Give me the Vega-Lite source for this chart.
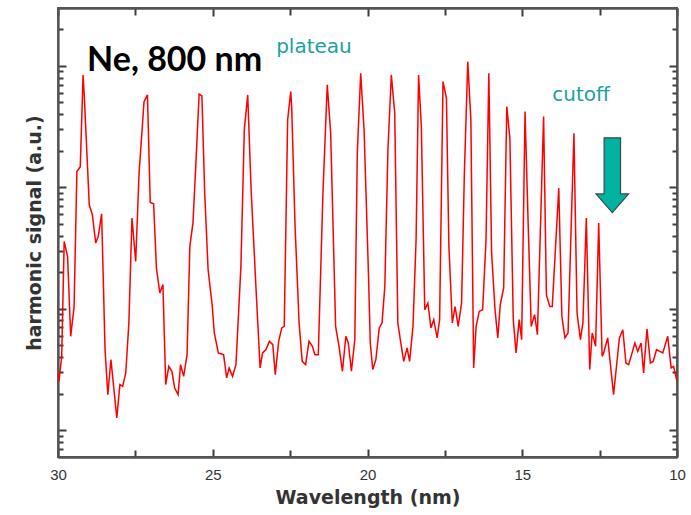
{
  "$schema": "https://vega.github.io/schema/vega-lite/v6.json",
  "width": 619,
  "height": 449,
  "autosize": "none",
  "padding": {"left": 58, "top": 8, "right": 14, "bottom": 58},
  "background": "white",
  "config": {
    "view": {"stroke": "#555555", "strokeWidth": 1.8},
    "axis": {"grid": false, "domainColor": "#555555", "domainWidth": 1.8, "tickColor": "#3c3c3c", "tickWidth": 2, "labelOverlap": false, "labelBound": false, "labelFlush": false}
  },
  "resolve": {"axis": {"x": "independent", "y": "independent"}},
  "layer": [
    {
      "data": {"name": "spectrum", "values": [
        {"wavelength": 30.00, "signal": 2.97}, {"wavelength": 29.97, "signal": 2.52}, {"wavelength": 29.88, "signal": 4.05}, {"wavelength": 29.80, "signal": 35.8}, {"wavelength": 29.69, "signal": 26.9}, {"wavelength": 29.59, "signal": 5.92}, {"wavelength": 29.48, "signal": 10.4}, {"wavelength": 29.39, "signal": 135}, {"wavelength": 29.28, "signal": 148}, {"wavelength": 29.19, "signal": 843}, {"wavelength": 29.15, "signal": 559}, {"wavelength": 28.99, "signal": 71.8}, {"wavelength": 28.89, "signal": 59.4}, {"wavelength": 28.78, "signal": 34.7}, {"wavelength": 28.70, "signal": 39.4}, {"wavelength": 28.59, "signal": 60.5}, {"wavelength": 28.48, "signal": 4.60}, {"wavelength": 28.39, "signal": 1.96}, {"wavelength": 28.29, "signal": 3.80}, {"wavelength": 28.10, "signal": 1.26}, {"wavelength": 28.00, "signal": 2.37}, {"wavelength": 27.91, "signal": 2.29}, {"wavelength": 27.81, "signal": 2.96}, {"wavelength": 27.71, "signal": 7.63}, {"wavelength": 27.61, "signal": 55.8}, {"wavelength": 27.49, "signal": 24.5}, {"wavelength": 27.38, "signal": 131}, {"wavelength": 27.22, "signal": 508}, {"wavelength": 27.11, "signal": 577}, {"wavelength": 27.02, "signal": 75.0}, {"wavelength": 26.91, "signal": 73.1}, {"wavelength": 26.82, "signal": 21.6}, {"wavelength": 26.71, "signal": 13.5}, {"wavelength": 26.61, "signal": 15.8}, {"wavelength": 26.52, "signal": 2.37}, {"wavelength": 26.42, "signal": 3.35}, {"wavelength": 26.32, "signal": 3.05}, {"wavelength": 26.23, "signal": 2.22}, {"wavelength": 26.12, "signal": 1.96}, {"wavelength": 26.04, "signal": 3.46}, {"wavelength": 25.94, "signal": 2.77}, {"wavelength": 25.83, "signal": 4.18}, {"wavelength": 25.74, "signal": 32.6}, {"wavelength": 25.64, "signal": 50.7}, {"wavelength": 25.55, "signal": 148}, {"wavelength": 25.44, "signal": 585}, {"wavelength": 25.35, "signal": 566}, {"wavelength": 25.26, "signal": 89.6}, {"wavelength": 25.15, "signal": 20.9}, {"wavelength": 25.02, "signal": 10.8}, {"wavelength": 24.95, "signal": 6.31}, {"wavelength": 24.82, "signal": 4.32}, {"wavelength": 24.65, "signal": 4.18}, {"wavelength": 24.55, "signal": 2.69}, {"wavelength": 24.47, "signal": 3.25}, {"wavelength": 24.36, "signal": 2.77}, {"wavelength": 24.25, "signal": 3.46}, {"wavelength": 24.09, "signal": 22.3}, {"wavelength": 23.98, "signal": 297}, {"wavelength": 23.87, "signal": 577}, {"wavelength": 23.76, "signal": 95.3}, {"wavelength": 23.60, "signal": 14.3}, {"wavelength": 23.47, "signal": 3.25}, {"wavelength": 23.39, "signal": 4.32}, {"wavelength": 23.28, "signal": 4.60}, {"wavelength": 23.17, "signal": 5.38}, {"wavelength": 23.06, "signal": 5.05}, {"wavelength": 22.98, "signal": 2.86}, {"wavelength": 22.87, "signal": 5.38}, {"wavelength": 22.77, "signal": 6.94}, {"wavelength": 22.69, "signal": 7.15}, {"wavelength": 22.58, "signal": 359}, {"wavelength": 22.48, "signal": 614}, {"wavelength": 22.45, "signal": 462}, {"wavelength": 22.34, "signal": 47.6}, {"wavelength": 22.21, "signal": 7.63}, {"wavelength": 22.11, "signal": 3.68}, {"wavelength": 22.00, "signal": 3.46}, {"wavelength": 21.89, "signal": 5.38}, {"wavelength": 21.78, "signal": 4.90}, {"wavelength": 21.70, "signal": 4.18}, {"wavelength": 21.59, "signal": 4.18}, {"wavelength": 21.44, "signal": 89.6}, {"wavelength": 21.30, "signal": 698}, {"wavelength": 21.19, "signal": 279}, {"wavelength": 21.03, "signal": 7.15}, {"wavelength": 20.92, "signal": 4.90}, {"wavelength": 20.81, "signal": 3.05}, {"wavelength": 20.70, "signal": 5.92}, {"wavelength": 20.62, "signal": 5.22}, {"wavelength": 20.52, "signal": 3.05}, {"wavelength": 20.41, "signal": 5.56}, {"wavelength": 20.33, "signal": 191}, {"wavelength": 20.22, "signal": 871}, {"wavelength": 20.11, "signal": 297}, {"wavelength": 19.97, "signal": 19.7}, {"wavelength": 19.91, "signal": 5.22}, {"wavelength": 19.83, "signal": 3.15}, {"wavelength": 19.73, "signal": 3.80}, {"wavelength": 19.62, "signal": 6.94}, {"wavelength": 19.53, "signal": 7.63}, {"wavelength": 19.44, "signal": 15.3}, {"wavelength": 19.34, "signal": 204}, {"wavelength": 19.23, "signal": 843}, {"wavelength": 19.12, "signal": 408}, {"wavelength": 19.02, "signal": 7.63}, {"wavelength": 18.94, "signal": 5.56}, {"wavelength": 18.83, "signal": 3.68}, {"wavelength": 18.72, "signal": 4.75}, {"wavelength": 18.64, "signal": 3.68}, {"wavelength": 18.53, "signal": 7.15}, {"wavelength": 18.43, "signal": 37.0}, {"wavelength": 18.35, "signal": 843}, {"wavelength": 18.26, "signal": 316}, {"wavelength": 18.15, "signal": 9.81}, {"wavelength": 18.05, "signal": 11.1}, {"wavelength": 17.95, "signal": 6.94}, {"wavelength": 17.86, "signal": 8.12}, {"wavelength": 17.75, "signal": 5.74}, {"wavelength": 17.67, "signal": 8.12}, {"wavelength": 17.56, "signal": 743}, {"wavelength": 17.45, "signal": 542}, {"wavelength": 17.37, "signal": 32.6}, {"wavelength": 17.26, "signal": 7.63}, {"wavelength": 17.17, "signal": 10.4}, {"wavelength": 17.07, "signal": 7.15}, {"wavelength": 16.96, "signal": 11.1}, {"wavelength": 16.87, "signal": 131}, {"wavelength": 16.76, "signal": 1084}, {"wavelength": 16.66, "signal": 359}, {"wavelength": 16.57, "signal": 3.25}, {"wavelength": 16.49, "signal": 7.15}, {"wavelength": 16.39, "signal": 9.50}, {"wavelength": 16.28, "signal": 9.81}, {"wavelength": 16.17, "signal": 37.0}, {"wavelength": 16.08, "signal": 871}, {"wavelength": 15.99, "signal": 28.7}, {"wavelength": 15.88, "signal": 9.81}, {"wavelength": 15.79, "signal": 5.74}, {"wavelength": 15.71, "signal": 10.8}, {"wavelength": 15.60, "signal": 14.8}, {"wavelength": 15.50, "signal": 462}, {"wavelength": 15.40, "signal": 254}, {"wavelength": 15.29, "signal": 8.12}, {"wavelength": 15.20, "signal": 4.32}, {"wavelength": 15.10, "signal": 8.12}, {"wavelength": 15.02, "signal": 5.56}, {"wavelength": 14.91, "signal": 421}, {"wavelength": 14.81, "signal": 50.7}, {"wavelength": 14.71, "signal": 7.15}, {"wavelength": 14.60, "signal": 8.93}, {"wavelength": 14.51, "signal": 6.11}, {"wavelength": 14.31, "signal": 383}, {"wavelength": 14.22, "signal": 13.0}, {"wavelength": 14.11, "signal": 10.4}, {"wavelength": 14.03, "signal": 10.4}, {"wavelength": 13.82, "signal": 98.4}, {"wavelength": 13.72, "signal": 8.64}, {"wavelength": 13.62, "signal": 5.74}, {"wavelength": 13.52, "signal": 6.31}, {"wavelength": 13.33, "signal": 279}, {"wavelength": 13.23, "signal": 9.22}, {"wavelength": 13.12, "signal": 5.56}, {"wavelength": 13.04, "signal": 7.63}, {"wavelength": 12.93, "signal": 55.8}, {"wavelength": 12.82, "signal": 3.15}, {"wavelength": 12.74, "signal": 6.31}, {"wavelength": 12.63, "signal": 4.90}, {"wavelength": 12.53, "signal": 50.7}, {"wavelength": 12.42, "signal": 4.05}, {"wavelength": 12.37, "signal": 4.32}, {"wavelength": 12.24, "signal": 5.74}, {"wavelength": 12.05, "signal": 1.96}, {"wavelength": 11.86, "signal": 5.74}, {"wavelength": 11.75, "signal": 6.71}, {"wavelength": 11.65, "signal": 3.57}, {"wavelength": 11.56, "signal": 3.46}, {"wavelength": 11.36, "signal": 5.22}, {"wavelength": 11.27, "signal": 4.45}, {"wavelength": 11.16, "signal": 5.22}, {"wavelength": 11.08, "signal": 2.96}, {"wavelength": 10.97, "signal": 6.81}, {"wavelength": 10.86, "signal": 3.57}, {"wavelength": 10.77, "signal": 3.68}, {"wavelength": 10.66, "signal": 4.60}, {"wavelength": 10.46, "signal": 4.32}, {"wavelength": 10.30, "signal": 5.92}, {"wavelength": 10.19, "signal": 3.25}, {"wavelength": 10.11, "signal": 3.35}, {"wavelength": 10.00, "signal": 2.52}
      ]},
      "mark": {"type": "line", "color": "#ff0000", "strokeWidth": 1.5, "clip": true},
      "encoding": {
        "x": {
          "field": "wavelength", "type": "quantitative",
          "scale": {"domain": [10, 30], "reverse": true, "zero": false, "nice": false},
          "axis": {
            "orient": "bottom",
            "values": [30, 25, 20, 15, 10],
            "format": "d",
            "tickSize": -8,
            "labelFont": "Liberation Sans", "labelFontSize": 15, "labelColor": "#333333", "labelPadding": 18,
            "title": "Wavelength (nm)", "titleFont": "DejaVu Sans", "titleFontSize": 19, "titleFontWeight": "bold", "titleColor": "#333333", "titlePadding": 6
          }
        },
        "y": {
          "field": "signal", "type": "quantitative",
          "scale": {"type": "log", "domain": [0.6, 3000], "nice": false},
          "axis": {
            "orient": "left",
            "values": [1, 10, 100, 1000],
            "labels": false,
            "tickSize": -8,
            "title": "harmonic signal (a.u.)", "titleFont": "DejaVu Sans", "titleFontSize": 19, "titleFontWeight": "bold", "titleColor": "#333333", "titlePadding": 13
          }
        }
      }
    },
    {
      "data": {"name": "spectrum"},
      "mark": {"type": "line", "opacity": 0},
      "encoding": {
        "x": {
          "field": "wavelength", "type": "quantitative",
          "axis": {"orient": "top", "values": [30, 25, 20, 15, 10], "labels": false, "title": null, "tickSize": -8}
        },
        "y": {
          "field": "signal", "type": "quantitative",
          "axis": {"orient": "right", "values": [1, 10, 100, 1000], "labels": false, "title": null, "tickSize": -8}
        }
      }
    },
    {
      "data": {"name": "spectrum"},
      "mark": {"type": "line", "opacity": 0},
      "encoding": {
        "x": {
          "field": "wavelength", "type": "quantitative",
          "axis": {"orient": "bottom", "values": [27.5, 22.5, 17.5, 12.5], "labels": false, "title": null, "tickSize": -7}
        },
        "y": {
          "field": "signal", "type": "quantitative",
          "axis": {"orient": "left", "values": [0.7, 0.8, 0.9, 2, 3, 4, 5, 6, 7, 8, 9, 20, 30, 40, 50, 60, 70, 80, 90, 200, 300, 400, 500, 600, 700, 800, 900, 2000], "labels": false, "title": null, "tickSize": -5}
        }
      }
    },
    {
      "data": {"name": "spectrum"},
      "mark": {"type": "line", "opacity": 0},
      "encoding": {
        "x": {
          "field": "wavelength", "type": "quantitative",
          "axis": {"orient": "top", "values": [27.5, 22.5, 17.5, 12.5], "labels": false, "title": null, "tickSize": -7}
        },
        "y": {
          "field": "signal", "type": "quantitative",
          "axis": {"orient": "right", "values": [0.7, 0.8, 0.9, 2, 3, 4, 5, 6, 7, 8, 9, 20, 30, 40, 50, 60, 70, 80, 90, 200, 300, 400, 500, 600, 700, 800, 900, 2000], "labels": false, "title": null, "tickSize": -5}
        }
      }
    },
    {
      "data": {"values": [{"label": "Ne, 800 nm", "wavelength": 29.06, "signal": 910}]},
      "mark": {"type": "text", "align": "left", "baseline": "alphabetic", "font": "Lato", "fontSize": 34, "fontWeight": "bold", "color": "#000000"},
      "encoding": {
        "x": {"field": "wavelength", "type": "quantitative", "axis": null},
        "y": {"field": "signal", "type": "quantitative", "axis": null},
        "text": {"field": "label"}
      }
    },
    {
      "data": {"values": [{"label": "plateau", "wavelength": 21.73, "signal": 1280}, {"label": "cutoff", "wavelength": 13.10, "signal": 515}]},
      "mark": {"type": "text", "align": "center", "baseline": "alphabetic", "font": "DejaVu Sans", "fontSize": 20, "color": "#1a9fa3"},
      "encoding": {
        "x": {"field": "wavelength", "type": "quantitative", "axis": null},
        "y": {"field": "signal", "type": "quantitative", "axis": null},
        "text": {"field": "label"}
      }
    },
    {
      "data": {"values": [{"label": "cutoff arrow", "wavelength": 12.09, "signal": 125.8}]},
      "mark": {"type": "point", "filled": true, "opacity": 1, "fill": "#00b3a1", "stroke": "#3a4a4a", "strokeWidth": 1.2, "size": 5580, "shape": "M -0.22 -1 L 0.22 -1 L 0.22 0.5 L 0.437 0.5 L 0 1 L -0.437 0.5 L -0.22 0.5 Z"},
      "encoding": {
        "x": {"field": "wavelength", "type": "quantitative", "axis": null},
        "y": {"field": "signal", "type": "quantitative", "axis": null}
      }
    }
  ]
}
